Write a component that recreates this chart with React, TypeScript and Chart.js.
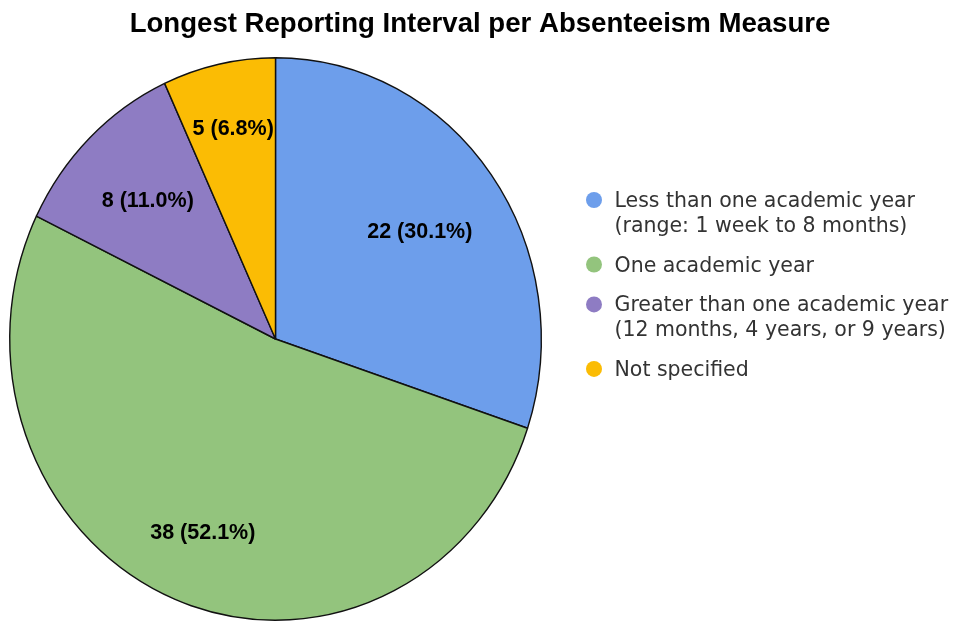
import React, { useEffect, useRef } from "react";
import { Chart, registerables } from "chart.js";

Chart.register(...registerables);

const TITLE = "Longest Reporting Interval per Absenteeism Measure";
const CATEGORIES: string[][] = [
  ["Less than one academic year", "(range: 1 week to 8 months)"],
  ["One academic year"],
  ["Greater than one academic year", "(12 months, 4 years, or 9 years)"],
  ["Not specified"],
];
const COUNTS = [22, 38, 8, 5];
const COLORS = ["#6d9eeb", "#93c47d", "#8e7cc3", "#fbbc04"];

const SANS = "'Liberation Sans', Arial, sans-serif";
const LEGEND_FONT = "'DejaVu Sans', sans-serif";
const W = 954;
const H = 624;

// horizontal squeeze of the pie (reference pie is slightly elliptical)
const SQUEEZE_X = 0.945;
const PIE_CX = 275.5;
// label distance from centre, as a fraction of the radius, per slice (style)
const LABEL_RADIUS_FRACTION = [0.662, 0.739, 0.695, 0.772];

function mapX(x: number, cx: number) {
  return PIE_CX + (x - cx) * SQUEEZE_X;
}

const pieSqueeze = {
  id: "pieSqueeze",
  beforeDatasetsDraw(chart: any) {
    const arc = chart.getDatasetMeta(0).data[0];
    const cx = arc ? arc.x : 0;
    const ctx = chart.ctx;
    ctx.save();
    ctx.translate(PIE_CX, 0);
    ctx.scale(SQUEEZE_X, 1);
    ctx.translate(-cx, 0);
  },
  afterDatasetsDraw(chart: any) {
    chart.ctx.restore();
  },
};

const sliceLabels = {
  id: "sliceLabels",
  afterDatasetsDraw(chart: any) {
    const ctx = chart.ctx;
    const meta = chart.getDatasetMeta(0);
    const data = chart.data.datasets[0].data as number[];
    const total = data.reduce((a, b) => a + b, 0);
    ctx.save();
    ctx.font = `bold 21.5px ${SANS}`;
    ctx.fillStyle = "#000";
    ctx.textAlign = "center";
    ctx.textBaseline = "middle";
    meta.data.forEach((arc: any, i: number) => {
      const { x, y, startAngle, endAngle, outerRadius } = arc.getProps(
        ["x", "y", "startAngle", "endAngle", "outerRadius"],
        true
      );
      const mid = (startAngle + endAngle) / 2;
      const r = outerRadius * LABEL_RADIUS_FRACTION[i];
      const pct = ((data[i] / total) * 100).toFixed(1);
      const px = mapX(x + Math.cos(mid) * r, x) + 1.5;
      ctx.fillText(`${data[i]} (${pct}%)`, px, y + Math.sin(mid) * r + 1.8);
    });
    ctx.restore();
  },
};

const titleAndLegend = {
  id: "titleAndLegend",
  afterDraw(chart: any) {
    const ctx = chart.ctx;
    ctx.save();
    // title
    ctx.font = `bold 27.6px ${SANS}`;
    ctx.fillStyle = "#000";
    ctx.textAlign = "center";
    ctx.textBaseline = "alphabetic";
    ctx.fillText(TITLE, 480, 31.5);

    // legend
    const markerX = 594;
    const textX = 614.5;
    const lineH = 24.6;
    const gap = 15.3;
    let baseline = 207;
    ctx.font = `20.5px ${LEGEND_FONT}`;
    ctx.textAlign = "left";
    CATEGORIES.forEach((lines, i) => {
      ctx.fillStyle = COLORS[i];
      ctx.beginPath();
      ctx.arc(markerX, baseline - 7, 8, 0, Math.PI * 2);
      ctx.fill();
      ctx.fillStyle = "#333333";
      lines.forEach((line, j) => {
        ctx.fillText(line, textX, baseline + j * lineH);
      });
      baseline += lines.length * lineH + gap;
    });
    ctx.restore();
  },
};

export default function App() {
  const ref = useRef<HTMLCanvasElement>(null);
  useEffect(() => {
    document.body.style.margin = "0";
    if (!ref.current) return;
    const chart = new Chart(ref.current, {
      type: "pie",
      data: {
        labels: CATEGORIES.map((l) => l.join(" ")),
        datasets: [
          {
            data: COUNTS,
            backgroundColor: COLORS,
            borderColor: "#111111",
            borderWidth: 1.5,
          },
        ],
      },
      options: {
        responsive: false,
        animation: false,
        devicePixelRatio: 1,
        layout: { padding: { left: 0, right: 354, top: 57, bottom: 3 } },
        plugins: {
          legend: { display: false },
          tooltip: { enabled: false },
          title: { display: false },
        },
      },
      plugins: [pieSqueeze, sliceLabels, titleAndLegend],
    });
    return () => chart.destroy();
  }, []);
  return (
    <canvas
      ref={ref}
      width={W}
      height={H}
      style={{ width: W + "px", height: H + "px", display: "block" }}
    />
  );
}
